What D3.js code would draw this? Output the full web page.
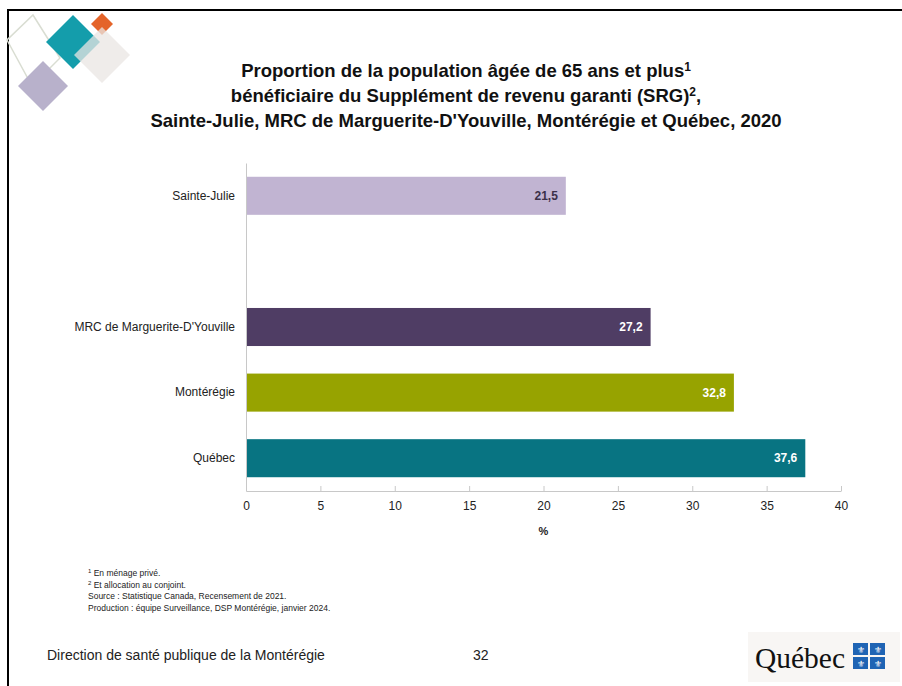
<!DOCTYPE html>
<html>
<head>
<meta charset="utf-8">
<script src="https://cdn.jsdelivr.net/npm/d3@7"></script>
<style>
  body { margin: 0; background: #fff; }
  svg { font-family: "Liberation Sans", Arial, sans-serif; }
</style>
</head>
<body>
<div id="vis"></div>
<script>
const FRAME_WIDTH = 902;
const FRAME_HEIGHT = 686;

// data
const categories = ["Sainte-Julie", "", "MRC de Marguerite-D'Youville", "Montérégie", "Québec"];
const values = [21.5, null, 27.2, 32.8, 37.6];
const barColors = ["#c1b4d2", "none", "#4f3d64", "#97a300", "#087482"];
const labelColors = ["#3b3049", "none", "#ffffff", "#ffffff", "#ffffff"];
const xTicks = [0, 5, 10, 15, 20, 25, 30, 35, 40];

const titleLines = [
  ["Proportion de la population âgée de 65 ans et plus", "1"],
  ["bénéficiaire du Supplément de revenu garanti (SRG)", "2", ","],
  ["Sainte-Julie, MRC de Marguerite-D'Youville, Montérégie et Québec, 2020"]
];
const notes = [
  ["1", " En ménage privé."],
  ["2", " Et allocation au conjoint."],
  ["", "Source : Statistique Canada, Recensement de 2021."],
  ["", "Production : équipe Surveillance, DSP Montérégie, janvier 2024."]
];

const PLOT = {left: 246, right: 841, top: 163, bottom: 491};

const svg = d3.select("#vis")
  .append("svg")
    .attr("width", FRAME_WIDTH)
    .attr("height", FRAME_HEIGHT);

// slide frame
svg.append("line").attr("x1", 8).attr("x2", FRAME_WIDTH).attr("y1", 10).attr("y2", 10)
  .attr("stroke", "#000").attr("stroke-width", 2);
svg.append("line").attr("x1", 8).attr("x2", 8).attr("y1", 9).attr("y2", FRAME_HEIGHT)
  .attr("stroke", "#000").attr("stroke-width", 2);

// decorative diamonds in corner
function diamond(cx, cy, r) {
  return [[cx, cy - r], [cx + r, cy], [cx, cy + r], [cx - r, cy]].map(p => p.join(",")).join(" ");
}
const deco = svg.append("g");
deco.append("polygon").attr("points", "33,15 60,58 32,86 7,40")
  .attr("fill", "none").attr("stroke", "#d9ddd2").attr("stroke-width", 1.5);
deco.append("polygon").attr("points", diamond(43, 86, 25)).attr("fill", "#b8b1cb");
deco.append("polygon").attr("points", diamond(73, 42, 27)).attr("fill", "#149dab");
deco.append("polygon").attr("points", diamond(102, 24, 11)).attr("fill", "#e4642a");
deco.append("polygon").attr("points", diamond(102, 55, 28)).attr("fill", "#e9e6e3").attr("opacity", 0.75);

// title
const title = svg.append("text")
  .attr("text-anchor", "middle")
  .attr("font-weight", "bold")
  .attr("font-size", "18.5px")
  .attr("fill", "#111");
titleLines.forEach((line, i) => {
  title.append("tspan").attr("x", 466).attr("y", 77 + i * 25).text(line[0]);
  if (line[1]) {
    title.append("tspan").attr("dy", -6).attr("font-size", "12px").text(line[1]);
    if (line[2]) title.append("tspan").attr("dy", 6).text(line[2]);
  }
});

// scales
const X_SCALE = d3.scaleLinear()
  .domain([0, 40])
  .range([PLOT.left, PLOT.right]);

const Y_SCALE = d3.scaleBand()
  .domain(categories)
  .range([PLOT.top, PLOT.bottom])
  .paddingInner(0.42)
  .paddingOuter(0.21);

const rows = categories.map((c, i) => ({cat: c, value: values[i], color: barColors[i], lab: labelColors[i]}))
  .filter(d => d.value != null);

// bars
svg.selectAll(".bar")
  .data(rows)
  .enter()
  .append("rect")
    .attr("class", "bar")
    .attr("x", X_SCALE(0))
    .attr("y", d => Y_SCALE(d.cat))
    .attr("width", d => X_SCALE(d.value) - X_SCALE(0))
    .attr("height", Y_SCALE.bandwidth())
    .attr("fill", d => d.color);

// value labels
svg.selectAll(".val")
  .data(rows)
  .enter()
  .append("text")
    .attr("x", d => X_SCALE(d.value) - 8)
    .attr("y", d => Y_SCALE(d.cat) + Y_SCALE.bandwidth() / 2)
    .attr("dy", "0.35em")
    .attr("text-anchor", "end")
    .attr("font-size", "12px")
    .attr("font-weight", "bold")
    .attr("fill", d => d.lab)
    .text(d => d.value.toFixed(1).replace(".", ","));

// x axis
const xAxis = svg.append("g")
  .attr("transform", "translate(0," + PLOT.bottom + ")")
  .call(d3.axisBottom(X_SCALE).tickValues(xTicks).tickSize(5).tickSizeOuter(0));
xAxis.select(".domain").attr("stroke", "#c8c8c8");
xAxis.selectAll(".tick line").attr("stroke", "#c8c8c8").attr("transform", "translate(0,-5)");
xAxis.selectAll(".tick text")
  .attr("font-size", "12px")
  .attr("font-family", "Liberation Sans, Arial, sans-serif")
  .attr("fill", "#222")
  .attr("y", 10);

// y axis
const yAxis = svg.append("g")
  .attr("transform", "translate(" + PLOT.left + ",0)")
  .call(d3.axisLeft(Y_SCALE).tickSize(0).tickPadding(11));
yAxis.select(".domain").attr("stroke", "#c8c8c8");
yAxis.selectAll(".tick text")
  .attr("font-size", "12px")
  .attr("font-family", "Liberation Sans, Arial, sans-serif")
  .attr("fill", "#222");

// axis title
svg.append("text")
  .attr("x", (PLOT.left + PLOT.right) / 2)
  .attr("y", 535)
  .attr("text-anchor", "middle")
  .attr("font-size", "11px")
  .attr("font-weight", "bold")
  .attr("fill", "#222")
  .text("%");

// footnotes
const nt = svg.append("g").attr("font-size", "8.5px").attr("fill", "#222");
notes.forEach((n, i) => {
  const t = nt.append("text").attr("x", 88).attr("y", 576 + i * 11.5);
  if (n[0]) t.append("tspan").attr("font-size", "6px").attr("dy", -3).text(n[0]);
  t.append("tspan").attr("dy", n[0] ? 3 : 0).text(n[1]);
});

// footer
svg.append("text").attr("x", 47).attr("y", 660)
  .attr("font-size", "14px").attr("fill", "#222")
  .text("Direction de santé publique de la Montérégie");
svg.append("text").attr("x", 473).attr("y", 660)
  .attr("font-size", "14px").attr("fill", "#222")
  .text("32");

// Québec logo
const logo = svg.append("g");
logo.append("rect").attr("x", 748).attr("y", 632).attr("width", 152).attr("height", 50).attr("fill", "#f8f6f4");
logo.append("text").attr("x", 755).attr("y", 668)
  .attr("font-family", "Liberation Serif, serif")
  .attr("font-size", "30px").attr("fill", "#111")
  .attr("textLength", 90).attr("lengthAdjust", "spacingAndGlyphs")
  .text("Québec");
[[853, 643], [870, 643], [853, 657], [870, 657]].forEach(p => {
  logo.append("rect").attr("x", p[0]).attr("y", p[1]).attr("width", 15).attr("height", 12).attr("fill", "#1f64b4");
  logo.append("text").attr("x", p[0] + 7.5).attr("y", p[1] + 10).attr("text-anchor", "middle")
    .attr("font-size", "9px").attr("fill", "#fff").text("⚜");
});
</script>
</body>
</html>
